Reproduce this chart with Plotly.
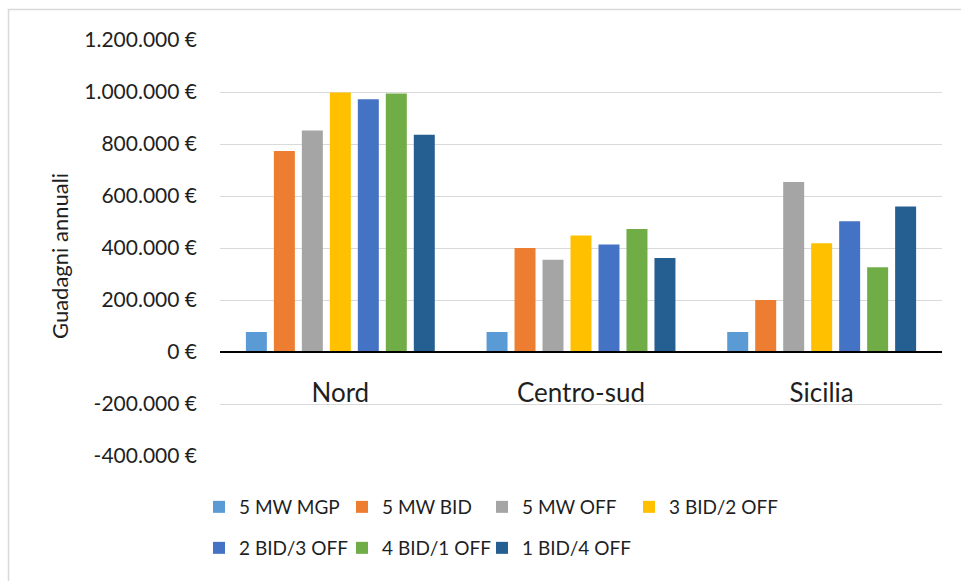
import plotly.graph_objects as go

# Annual earnings by market zone for each bidding configuration
zones = ["Nord", "Centro-sud", "Sicilia"]
series_names = ["5 MW MGP", "5 MW BID", "5 MW OFF", "3 BID/2 OFF",
                "2 BID/3 OFF", "4 BID/1 OFF", "1 BID/4 OFF"]
mw5_mgp = [77000, 77000, 77000]
mw5_bid = [773000, 400000, 200000]
mw5_off = [852000, 355000, 654000]
bid3_off2 = [998000, 448000, 418000]
bid2_off3 = [972000, 413000, 503000]
bid4_off1 = [994000, 473000, 326000]
bid1_off4 = [836000, 362000, 560000]
series_values = [mw5_mgp, mw5_bid, mw5_off, bid3_off2, bid2_off3, bid4_off1, bid1_off4]
colors = ["#5B9BD5", "#ED7D31", "#A5A5A5", "#FFC000", "#4472C4", "#70AD47", "#255E91"]
y_ticks = [-400000, -200000, 0, 200000, 400000, 600000, 800000, 1000000, 1200000]


def euro(v):
    # Italian style: dot as thousands separator, euro sign after the amount
    return f"{v:,.0f}".replace(",", ".") + " €"


y_tick_text = [euro(v) for v in y_ticks]

W, H = 961, 581
ML, MR, MT, MB = 220, 19, 40, 125
PW, PH = W - ML - MR, H - MT - MB
FONT = "Lato"
TXT = "#1f1f1f"

# legend grid: column starts (px) and row centres (px); 4 entries per row
COL_X = [199, 342, 482, 629]
ROW_Y = [507, 548]

fig = go.Figure()
legend_layout = {}
for i, (name, vals, col) in enumerate(zip(series_names, series_values, colors)):
    lid = "legend" if i == 0 else f"legend{i + 1}"
    fig.add_trace(go.Bar(
        x=zones, y=vals, name=name, marker_color=col, marker_line_width=0,
        legend=lid,
    ))
    legend_layout[lid] = dict(
        orientation="h", xref="container", yref="container",
        xanchor="left", yanchor="middle",
        x=COL_X[i % 4] / W, y=1 - ROW_Y[i // 4] / H,
        font=dict(family=FONT, size=19, color=TXT),
        bgcolor="rgba(0,0,0,0)",
    )

fig.update_layout(
    width=W, height=H,
    margin=dict(l=ML, r=MR, t=MT, b=MB, autoexpand=False),
    paper_bgcolor="white", plot_bgcolor="white",
    barmode="group", bargap=0.186, bargroupgap=0.25,
    font=dict(family=FONT, color=TXT),
    showlegend=True,
    **legend_layout,
    xaxis=dict(
        anchor="free", position=0.25,
        showline=True, linecolor="#000000", linewidth=1.5,
        showgrid=False, ticks="", ticklabelstandoff=18,
        tickfont=dict(family=FONT, size=26, color=TXT),
    ),
    yaxis=dict(
        range=[-400000, 1200000], tickmode="array",
        tickvals=y_ticks, ticktext=y_tick_text,
        showgrid=True, gridcolor="#d9d9d9", gridwidth=1,
        zeroline=False, showline=False, ticks="",
        ticklabelstandoff=22,
        tickfont=dict(family=FONT, size=21, color=TXT),
    ),
    annotations=[dict(
        text="Guadagni annuali", textangle=-90,
        xref="paper", yref="paper",
        x=(60 - ML) / PW, y=(H - MB - 256) / PH,
        xanchor="center", yanchor="middle", showarrow=False,
        font=dict(family=FONT, size=22, color=TXT),
    )],
    shapes=[dict(
        type="rect", xref="paper", yref="paper", layer="below",
        x0=(8.5 - ML) / PW, x1=(990 - ML) / PW,
        y0=(H - MB - 600) / PH, y1=(H - MB - 9.5) / PH,
        line=dict(color="#d9d9d9", width=1.5), fillcolor="rgba(0,0,0,0)",
    )],
)

fig.write_html("out.html")
